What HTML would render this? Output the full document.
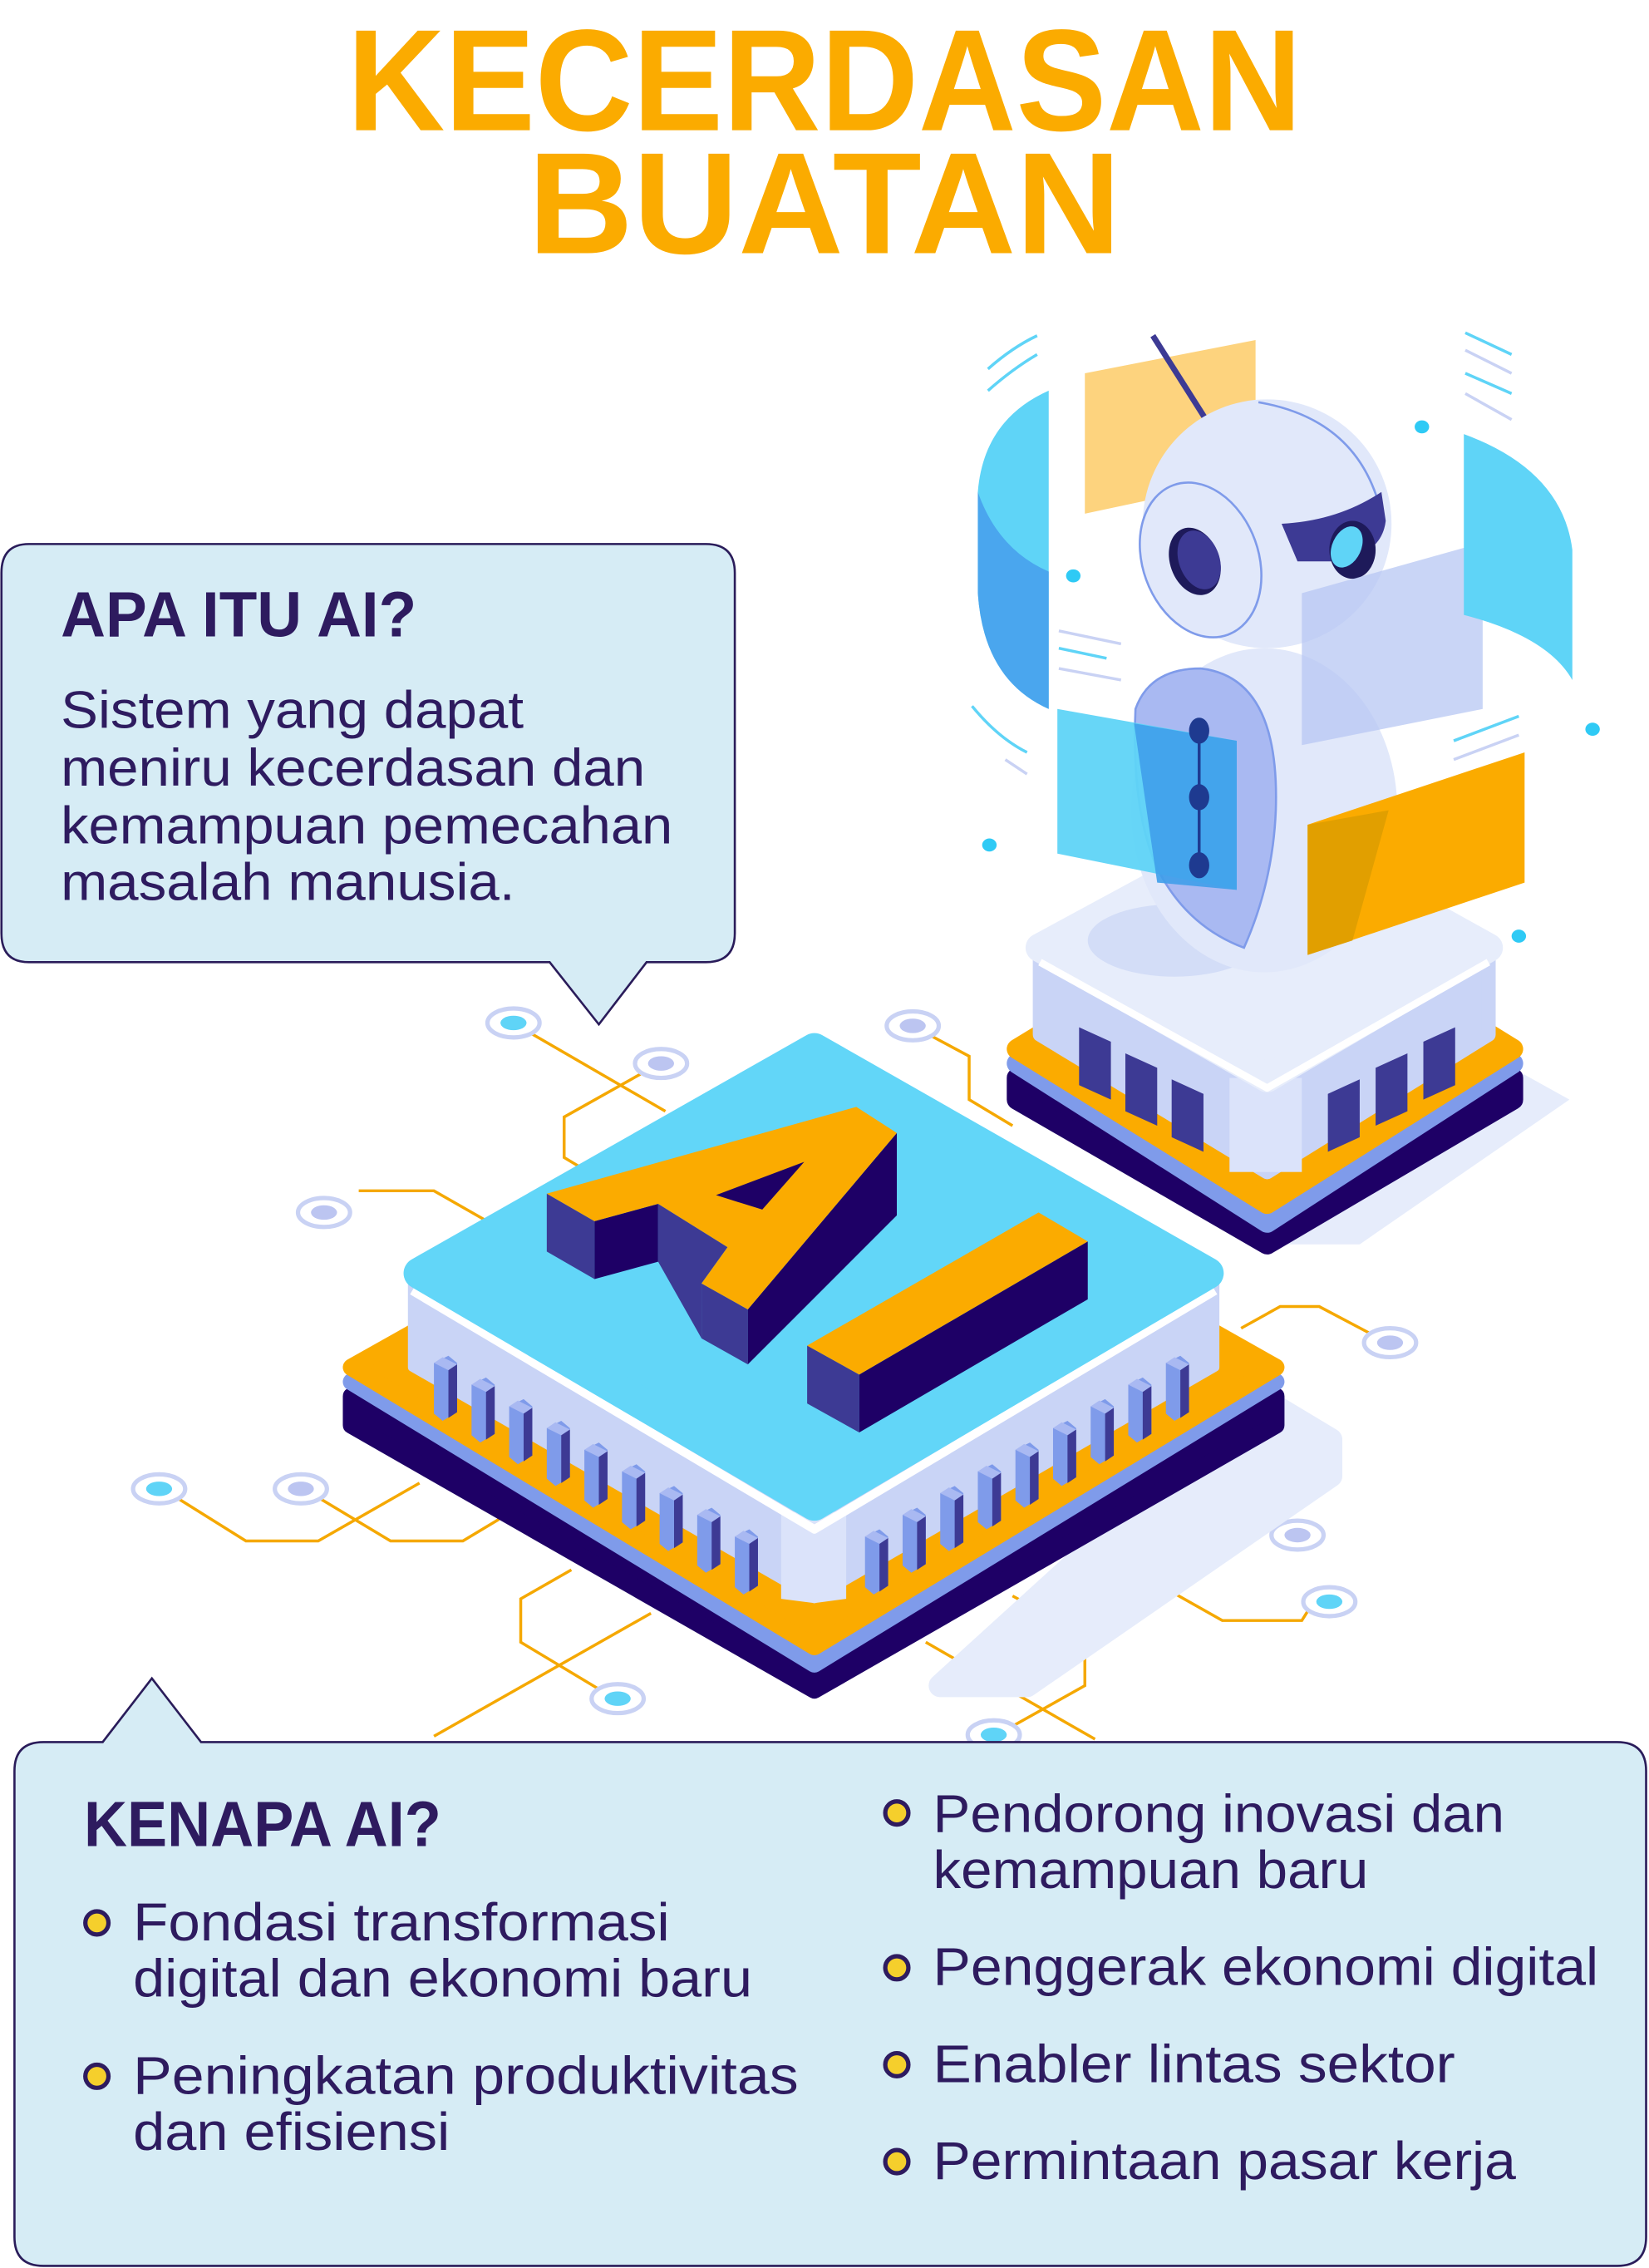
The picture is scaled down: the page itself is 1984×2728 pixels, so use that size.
<!DOCTYPE html>
<html><head><meta charset="utf-8"><style>
html,body{margin:0;padding:0;background:#fff;}
svg{display:block;}
text{font-family:"Liberation Sans",sans-serif;fill:#2e1b5f;}
</style></head><body>
<svg width="1984" height="2728" viewBox="0 0 1140 1567.5" xmlns="http://www.w3.org/2000/svg">
<rect width="1140" height="1568" fill="#fff"/>
<!-- Title -->
<text x="240" y="90" font-size="100" font-weight="bold" style="fill:#fbab00" textLength="660" lengthAdjust="spacingAndGlyphs">KECERDASAN</text>
<text x="365" y="175" font-size="100" font-weight="bold" style="fill:#fbab00" textLength="410" lengthAdjust="spacingAndGlyphs">BUATAN</text>

<!-- circuit lines -->
<g stroke="#f5a800" stroke-width="2" fill="none">
<polyline points="365,713 460,768"/>
<polyline points="447,740 390,772 390,800 410,812"/>
<polyline points="642,715 670,730 670,760 700,778"/>
<polyline points="248,823 300,823 335,843"/>
<polyline points="948,922 912,903 885,903 858,918"/>
<polyline points="122,1035 170,1065 220,1065 290,1025"/>
<polyline points="220,1035 270,1065 320,1065 345,1050"/>
<polyline points="885,1055 835,1025"/>
<polyline points="905,1112 900,1120 845,1120 760,1072"/>
<polyline points="415,1168 360,1135 360,1105 395,1085"/>
<polyline points="300,1200 450,1115"/>
<polyline points="700,1193 750,1165 750,1130 700,1103"/>
<polyline points="757,1202 640,1135"/>
</g>
<g stroke="#c9d2f4" stroke-width="3" fill="#fff">
<ellipse cx="355" cy="707" rx="18" ry="10"/><ellipse cx="457" cy="735" rx="18" ry="10"/>
<ellipse cx="631" cy="709" rx="18" ry="10"/><ellipse cx="224" cy="838" rx="18" ry="10"/>
<ellipse cx="961" cy="928" rx="18" ry="10"/><ellipse cx="110" cy="1029" rx="18" ry="10"/>
<ellipse cx="208" cy="1029" rx="18" ry="10"/><ellipse cx="897" cy="1061" rx="18" ry="10"/>
<ellipse cx="919" cy="1107" rx="18" ry="10"/><ellipse cx="427" cy="1174" rx="18" ry="10"/>
<ellipse cx="687" cy="1199" rx="18" ry="10"/>
</g>
<g fill="#5fd4f7"><ellipse cx="355" cy="707" rx="9" ry="5"/><ellipse cx="110" cy="1029" rx="9" ry="5"/><ellipse cx="919" cy="1107" rx="9" ry="5"/><ellipse cx="427" cy="1174" rx="9" ry="5"/><ellipse cx="687" cy="1199" rx="9" ry="5"/></g>
<g fill="#bcc5f1"><ellipse cx="457" cy="735" rx="9" ry="5"/><ellipse cx="631" cy="709" rx="9" ry="5"/><ellipse cx="224" cy="838" rx="9" ry="5"/><ellipse cx="961" cy="928" rx="9" ry="5"/><ellipse cx="208" cy="1029" rx="9" ry="5"/><ellipse cx="897" cy="1061" rx="9" ry="5"/></g>

<!-- shadows -->
<polygon points="870,965 920,995 920,1020 710,1165 650,1165" fill="#e6ecfb" stroke="#e6ecfb" stroke-width="16" stroke-linejoin="round"/>
<polygon points="1040,735 1085,760 940,860 880,860" fill="#e6ecfb"/>

<!-- Robot base -->
<g stroke-linejoin="round">
<polygon points="876,640 1046,745 1046,760 876,860 703,760 703,745" fill="#1e0066" stroke="#1e0066" stroke-width="14"/>
<polygon points="876,630 1046,735 876,845 703,735" fill="#7f9bea" stroke="#7f9bea" stroke-width="14"/>
<polygon points="876,620 1046,725 876,832 703,725" fill="#fbab00" stroke="#fbab00" stroke-width="14"/>
<polygon points="719,655 876,745 1029,655 1029,715 876,810 719,715" fill="#c9d4f6" stroke="#c9d4f6" stroke-width="10"/>
<rect x="850" y="745" width="50" height="65" fill="#dbe3fa"/>
<polygon points="876,570 1029,655 876,745 719,655" fill="#e7edfb" stroke="#e7edfb" stroke-width="20"/>
<polyline points="719,665 876,752 1029,665" fill="none" stroke="#fff" stroke-width="5"/>
</g>
<g fill="#3d3a94">
<polygon points="746,710 768,720 768,760 746,750"/><polygon points="778,728 800,738 800,778 778,768"/><polygon points="810,746 832,756 832,796 810,786"/>
<polygon points="918,756 940,746 940,786 918,796"/><polygon points="951,738 973,728 973,768 951,778"/><polygon points="984,720 1006,710 1006,750 984,760"/>
</g>

<!-- Robot -->
<path d="M725,270 L725,490 Q680,470 676,410 L676,340 Q680,290 725,270Z" fill="#5fd4f7"/>
<path d="M676,340 Q690,380 725,395 L725,490 Q680,470 676,410Z" fill="#4aa6ee"/>
<polygon points="750,258 868,235 868,330 750,355" fill="#fdd37e"/>
<line x1="797" y1="232" x2="835" y2="292" stroke="#3d3a94" stroke-width="4"/>
<ellipse cx="812" cy="650" rx="60" ry="25" fill="#d3ddf7"/>
<ellipse cx="874" cy="560" rx="92" ry="112" fill="#e1e8fa"/>
<ellipse cx="874" cy="420" rx="60" ry="20" fill="#ccd7f5"/>
<path d="M830,462 Q885,468 882,560 Q880,610 860,655 Q820,640 800,600 Q782,560 785,490 Q795,462 830,462Z" fill="#a9b9f2" stroke="#7f9bea" stroke-width="1.5"/>
<circle cx="876" cy="362" r="86" fill="#e1e8fa"/>
<path d="M870,278 Q940,290 955,355" fill="none" stroke="#7f9bea" stroke-width="1.5"/>
<ellipse cx="830" cy="387" rx="40" ry="55" transform="rotate(-20 830 387)" fill="#e1e8fa" stroke="#7f9bea" stroke-width="1.5"/>
<ellipse cx="826" cy="388" rx="17" ry="24" transform="rotate(-20 826 388)" fill="#1e1a5a"/>
<ellipse cx="829" cy="387" rx="14" ry="21" transform="rotate(-20 829 387)" fill="#3d3a94"/>
<path d="M886,362 Q925,360 955,340 L958,360 Q955,385 920,388 L897,388 Z" fill="#3d3a94"/>
<ellipse cx="935" cy="380" rx="16" ry="20" fill="#1e1a5a"/>
<ellipse cx="931" cy="378" rx="10" ry="15" transform="rotate(25 931 378)" fill="#5fd4f7"/>
<polygon points="731,490 855,512 855,615 731,590" fill="#5fd4f7" opacity="0.95"/>
<polygon points="784,500 855,512 855,615 800,610" fill="#3f9fea" opacity="0.9"/>
<line x1="829" y1="505" x2="829" y2="598" stroke="#1e3a90" stroke-width="2"/>
<g fill="#1e3a90"><ellipse cx="829" cy="505" rx="7" ry="9"/><ellipse cx="829" cy="551" rx="7" ry="9"/><ellipse cx="829" cy="598" rx="7" ry="9"/></g>
<polygon points="900,410 1025,375 1025,490 900,515" fill="#b7c7f3" opacity="0.75"/>
<path d="M1012,300 Q1080,325 1087,380 L1087,470 Q1070,440 1012,425Z" fill="#5fd4f7"/>
<polygon points="904,570 1054,520 1054,610 904,660" fill="#fbab00"/>
<polygon points="904,570 960,560 935,650 904,660" fill="#e19f00"/>
<g fill="#2fcaf5"><ellipse cx="983" cy="295" rx="5" ry="4.5"/><ellipse cx="742" cy="398" rx="5" ry="4.5"/><ellipse cx="1101" cy="504" rx="5" ry="4.5"/><ellipse cx="684" cy="584" rx="5" ry="4.5"/><ellipse cx="1050" cy="647" rx="5" ry="4.5"/></g>
<g stroke="#5fd4f7" stroke-width="2" fill="none">
<path d="M683,255 Q700,240 717,232"/><path d="M683,270 Q700,255 717,245"/><path d="M1013,230 L1045,245"/><path d="M1013,258 L1045,272"/><path d="M1005,512 L1050,495"/><path d="M672,488 Q690,510 710,520"/><path d="M732,448 L765,455"/>
</g>
<g stroke="#c9d2f4" stroke-width="2" fill="none">
<path d="M1013,242 L1045,258"/><path d="M1013,272 L1045,290"/><path d="M1005,525 L1050,508"/><path d="M732,436 L775,445"/><path d="M732,462 L775,470"/><path d="M695,525 L710,535"/>
</g>

<!-- Chip -->
<g stroke-linejoin="round">
<polygon points="563,790 882,965 882,985 563,1168 243,985 243,965" fill="#1e0066" stroke="#1e0066" stroke-width="12"/>
<polygon points="563,775 882,955 563,1150 243,955" fill="#7f9bea" stroke="#7f9bea" stroke-width="12"/>
<polygon points="563,765 882,945 563,1138 243,945" fill="#fbab00" stroke="#fbab00" stroke-width="12"/>
<polygon points="285,880 563,1045 840,880 840,945 563,1105 285,945" fill="#c9d4f6" stroke="#c9d4f6" stroke-width="6"/>
<polygon points="540,1045 585,1045 585,1105 563,1108 540,1105" fill="#dbe3fa"/>
<polyline points="285,892 563,1057 840,892" fill="none" stroke="#fff" stroke-width="6"/>
<polygon points="563,725 835,880 563,1040 290,880" fill="#62d6f8" stroke="#62d6f8" stroke-width="22"/>
</g>
<!-- pins -->
<g id="pinsL">
<polygon points="300,942 310,937 316,942 316,976 306,982 300,977" fill="#7f9bea"/>
<polygon points="300,942 306,938 316,943 310,947" fill="#a9b9f2"/><polygon points="310,947 316,943 316,976 310,980" fill="#3d3a94"/>
</g>
<use href="#pinsL" transform="translate(26,15)"/><use href="#pinsL" transform="translate(52,30)"/><use href="#pinsL" transform="translate(78,45)"/><use href="#pinsL" transform="translate(104,60)"/><use href="#pinsL" transform="translate(130,75)"/><use href="#pinsL" transform="translate(156,90)"/><use href="#pinsL" transform="translate(182,105)"/><use href="#pinsL" transform="translate(208,120)"/>
<use href="#pinsL" transform="translate(298,120)"/><use href="#pinsL" transform="translate(324,105)"/><use href="#pinsL" transform="translate(350,90)"/><use href="#pinsL" transform="translate(376,75)"/><use href="#pinsL" transform="translate(402,60)"/><use href="#pinsL" transform="translate(428,45)"/><use href="#pinsL" transform="translate(454,30)"/><use href="#pinsL" transform="translate(480,15)"/><use href="#pinsL" transform="translate(506,0)"/>
<!-- A -->
<polygon points="378,825 411,844 411,884 378,865" fill="#3d3a94"/>
<polygon points="411,844 455,832 455,872 411,884" fill="#1e0066"/>
<polygon points="455,832 503,862 485,887 485,925 455,872" fill="#3d3a94"/>
<polygon points="485,887 517,905 517,943 485,925" fill="#3d3a94"/>
<polygon points="517,905 620,783 620,840 517,943" fill="#1e0066"/>
<polygon points="378,825 592,765 620,783 517,905 485,887 503,862 455,832 411,844" fill="#fbab00"/>
<polygon points="495,826 556,803 527,836" fill="#1e0066"/>
<!-- I -->
<polygon points="558,930 594,950 594,990 558,970" fill="#3d3a94"/>
<polygon points="594,950 752,858 752,898 594,990" fill="#1e0066"/>
<polygon points="558,930 718,838 752,858 594,950" fill="#fbab00"/>

<!-- Bubble 1 -->
<path d="M20,376 L488,376 Q508,376 508,396 L508,645 Q508,665 488,665 L447,665 L414,708 L380,665 L20,665 Q1,665 1,645 L1,396 Q1,376 20,376Z" fill="#d6ecf5" stroke="#2a1c5a" stroke-width="1.5"/>
<text x="42" y="440" font-size="44" font-weight="bold" textLength="246" lengthAdjust="spacingAndGlyphs">APA ITU AI?</text>
<g font-size="36">
<text x="42" y="503" textLength="320" lengthAdjust="spacingAndGlyphs">Sistem yang dapat</text>
<text x="42" y="543" textLength="404" lengthAdjust="spacingAndGlyphs">meniru kecerdasan dan</text>
<text x="42" y="583" textLength="423" lengthAdjust="spacingAndGlyphs">kemampuan pemecahan</text>
<text x="42" y="622" textLength="314" lengthAdjust="spacingAndGlyphs">masalah manusia.</text>
</g>

<!-- Bubble 2 -->
<path d="M30,1204 L71,1204 L105,1160 L139,1204 L1118,1204 Q1138,1204 1138,1224 L1138,1546 Q1138,1566 1118,1566 L30,1566 Q10,1566 10,1546 L10,1224 Q10,1204 30,1204Z" fill="#d6ecf5" stroke="#2a1c5a" stroke-width="1.5"/>
<text x="58" y="1276" font-size="44" font-weight="bold" textLength="247" lengthAdjust="spacingAndGlyphs">KENAPA AI?</text>
<g font-size="37">
<text x="92" y="1341" textLength="371" lengthAdjust="spacingAndGlyphs">Fondasi transformasi</text>
<text x="92" y="1380" textLength="428" lengthAdjust="spacingAndGlyphs">digital dan ekonomi baru</text>
<text x="92" y="1447" textLength="460" lengthAdjust="spacingAndGlyphs">Peningkatan produktivitas</text>
<text x="92" y="1486" textLength="219" lengthAdjust="spacingAndGlyphs">dan efisiensi</text>
<text x="645" y="1266" textLength="395" lengthAdjust="spacingAndGlyphs">Pendorong inovasi dan</text>
<text x="645" y="1305" textLength="301" lengthAdjust="spacingAndGlyphs">kemampuan baru</text>
<text x="645" y="1372" textLength="460" lengthAdjust="spacingAndGlyphs">Penggerak ekonomi digital</text>
<text x="645" y="1439" textLength="361" lengthAdjust="spacingAndGlyphs">Enabler lintas sektor</text>
<text x="645" y="1506" textLength="403" lengthAdjust="spacingAndGlyphs">Permintaan pasar kerja</text>
</g>
<g fill="#f5cf2c" stroke="#2e1b5f" stroke-width="3">
<circle cx="67" cy="1329" r="8"/><circle cx="67" cy="1435" r="8"/>
<circle cx="620" cy="1253" r="8"/><circle cx="620" cy="1360" r="8"/><circle cx="620" cy="1427" r="8"/><circle cx="620" cy="1494" r="8"/>
</g>
</svg>
</body></html>
